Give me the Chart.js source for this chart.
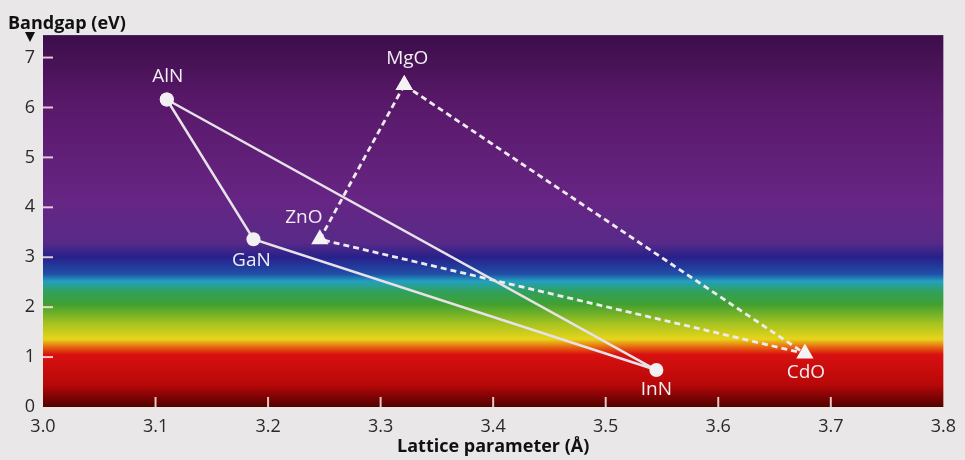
<!DOCTYPE html>
<html lang="en">
<head>
<meta charset="UTF-8">
<script src="https://cdn.jsdelivr.net/npm/chart.js"></script>
<style>
  body { margin: 0; background: #e9e7e8; }
  #wrap { width: 965px; height: 460px; }
</style>
</head>
<body>
<div id="wrap"><canvas id="myChart"></canvas></div>
<script>
// nitrides (solid triangle) : lattice parameter (A), bandgap (eV)
const nitrideNames = ['AlN', 'GaN', 'InN'];
const nitrideLattice = [3.110, 3.187, 3.545];
const nitrideGap = [6.16, 3.36, 0.74];

// oxides (dashed triangle)
const oxideNames = ['MgO', 'ZnO', 'CdO'];
const oxideLattice = [3.321, 3.246, 3.677];
const oxideGap = [6.45, 3.36, 1.07];

const xTicks = [3.0, 3.1, 3.2, 3.3, 3.4, 3.5, 3.6, 3.7, 3.8];
const yTicks = [0, 1, 2, 3, 4, 5, 6, 7];

// spectrum background, by bandgap value
const spectrum = [
  [0.00, '#520000'], [0.45, '#b80808'], [1.05, '#d81010'], [1.18, '#e65a10'],
  [1.36, '#e8d41a'], [1.66, '#a8c420'], [2.06, '#40a030'], [2.32, '#30a060'],
  [2.52, '#22a0c0'], [2.66, '#2050a8'], [3.00, '#28208a'], [3.30, '#582a88'],
  [4.16, '#672584'], [6.16, '#581868'], [7.45, '#3c0e4a']
];

// label placement offsets (px) for each point label
const nitrideLabelOffset = [[1, -23], [-2, 21], [0, 20]];
const oxideLabelOffset = [[3, -26], [-16, -22], [1, 19]];

function pts(xs, ys) {
  let out = [];
  for (let i = 0; i < xs.length; i++) out.push({ x: xs[i], y: ys[i] });
  out.push({ x: xs[0], y: ys[0] });
  return out;
}

const bgPlugin = {
  id: 'spectrumBg',
  beforeDraw(chart) {
    const { ctx, chartArea } = chart;
    const ys = chart.scales.y;
    const y0 = ys.getPixelForValue(0), y1 = ys.getPixelForValue(7.45);
    const g = ctx.createLinearGradient(0, y0, 0, y1);
    spectrum.forEach(s => g.addColorStop(s[0] / 7.45, s[1]));
    ctx.save();
    ctx.fillStyle = g;
    ctx.fillRect(chartArea.left, chartArea.top, chartArea.right - chartArea.left, chartArea.bottom - chartArea.top);
    ctx.restore();
  },
  beforeDatasetsDraw(chart) {
    const { ctx, chartArea } = chart;
    const xs = chart.scales.x, ys = chart.scales.y;
    ctx.save();
    ctx.strokeStyle = 'rgba(255,232,232,0.85)';
    ctx.lineWidth = 2;
    yTicks.forEach(v => {
      if (v === 0) return;
      const p = ys.getPixelForValue(v);
      ctx.beginPath(); ctx.moveTo(chartArea.left, p); ctx.lineTo(chartArea.left + 10, p); ctx.stroke();
    });
    xTicks.forEach(v => {
      if (v === 3.0 || v === 3.8) return;
      const p = xs.getPixelForValue(v);
      ctx.beginPath(); ctx.moveTo(p, chartArea.bottom); ctx.lineTo(p, chartArea.bottom - 10); ctx.stroke();
    });
    // little arrow at top of the y axis
    ctx.fillStyle = '#111';
    const cx = chartArea.left - 13, ty = chartArea.top - 3;
    ctx.beginPath(); ctx.moveTo(cx - 5, ty); ctx.lineTo(cx + 5, ty); ctx.lineTo(cx, ty + 10); ctx.closePath(); ctx.fill();
    ctx.restore();
  },
  afterDatasetsDraw(chart) {
    const { ctx } = chart;
    const xs = chart.scales.x, ys = chart.scales.y;
    ctx.save();
    ctx.fillStyle = '#f2eef4';
    ctx.font = '19px "Open Sans", sans-serif';
    ctx.textAlign = 'center';
    ctx.textBaseline = 'middle';
    nitrideNames.forEach((n, i) => {
      ctx.fillText(n, xs.getPixelForValue(nitrideLattice[i]) + nitrideLabelOffset[i][0],
        ys.getPixelForValue(nitrideGap[i]) + nitrideLabelOffset[i][1]);
    });
    oxideNames.forEach((n, i) => {
      ctx.fillText(n, xs.getPixelForValue(oxideLattice[i]) + oxideLabelOffset[i][0],
        ys.getPixelForValue(oxideGap[i]) + oxideLabelOffset[i][1]);
    });
    ctx.restore();
  }
};

const ctx = document.getElementById('myChart');
const chart = new Chart(ctx, {
  type: 'scatter',
  data: {
    datasets: [
      {
        label: 'nitrides',
        data: pts(nitrideLattice, nitrideGap),
        showLine: true,
        borderColor: '#e6e2e8',
        borderWidth: 2.5,
        pointRadius: 7,
        pointBackgroundColor: '#f2f0f2',
        pointBorderWidth: 0
      },
      {
        label: 'oxides',
        data: pts(oxideLattice, oxideGap),
        showLine: true,
        borderColor: '#eeeaee',
        borderWidth: 2.8,
        borderDash: [6, 4],
        pointStyle: 'triangle',
        pointRadius: 10,
        pointBackgroundColor: '#f4f2f4',
        pointBorderWidth: 0
      }
    ]
  },
  options: {
    responsive: true,
    maintainAspectRatio: false,
    animation: false,
    layout: { padding: { left: 8, right: 0, top: 0, bottom: 0 } },
    plugins: {
      legend: { display: false },
      tooltip: { enabled: false },
      title: {
        display: true,
        text: 'Bandgap (eV)',
        align: 'start',
        color: '#111',
        font: { family: '"Open Sans", sans-serif', size: 18, weight: 'bold' },
        padding: { top: 13, bottom: 0.5 }
      }
    },
    scales: {
      x: {
        type: 'linear',
        min: 3.0,
        max: 3.8,
        grid: { display: false, drawTicks: false },
        border: { display: false },
        ticks: {
          stepSize: 0.1,
          padding: 9,
          color: '#2a2a2a',
          font: { family: '"Open Sans", sans-serif', size: 18 },
          callback: v => Number(v).toFixed(1)
        },
        afterBuildTicks: s => { s.ticks = xTicks.map(v => ({ value: v })); },
        afterFit: s => { s.height = 53; },
        title: {
          display: true,
          text: 'Lattice parameter (Å)',
          color: '#111',
          font: { family: '"Open Sans", sans-serif', size: 18, weight: 'bold' },
          padding: { top: 0, bottom: 2 }
        }
      },
      y: {
        type: 'linear',
        min: 0,
        max: 7.45,
        grid: { display: false, drawTicks: false },
        border: { display: false },
        ticks: {
          stepSize: 1,
          padding: 8,
          color: '#2a2a2a',
          font: { family: '"Open Sans", sans-serif', size: 18 }
        },
        afterBuildTicks: s => { s.ticks = yTicks.map(v => ({ value: v })); },
        afterFit: s => { s.width = 35; }
      }
    }
  },
  plugins: [bgPlugin]
});
</script>
</body>
</html>
